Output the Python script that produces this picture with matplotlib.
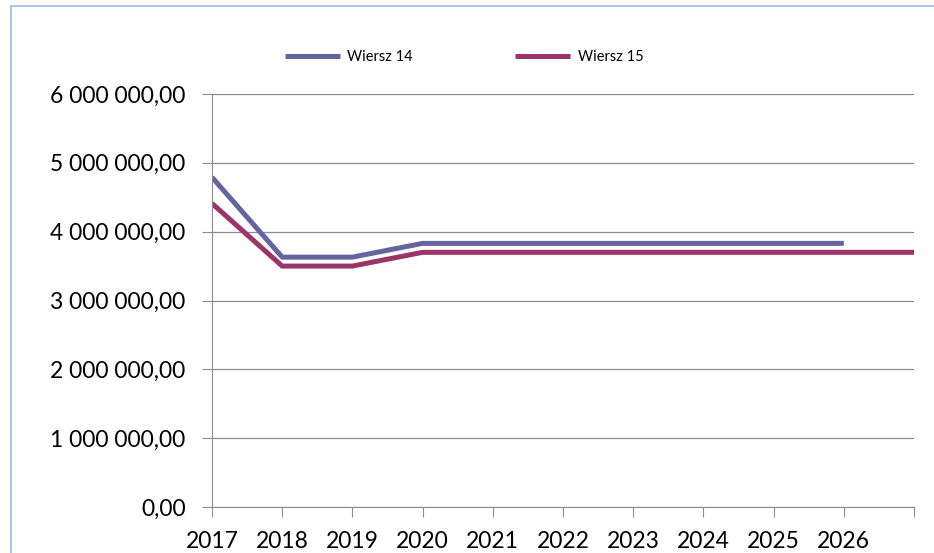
import matplotlib.pyplot as plt
from matplotlib.patches import Rectangle
from matplotlib.ticker import FuncFormatter

plt.rcParams['font.family'] = ['Lato', 'DejaVu Sans']

years = [2017, 2018, 2019, 2020, 2021, 2022, 2023, 2024, 2025, 2026, 2027]
year_labels = ['2017', '2018', '2019', '2020', '2021', '2022', '2023',
               '2024', '2025', '2026', '']
wiersz_14 = [4790000, 3630000, 3630000, 3830000, 3830000, 3830000, 3830000,
             3830000, 3830000, 3830000]
wiersz_15 = [4410000, 3500000, 3500000, 3700000, 3700000, 3700000, 3700000,
             3700000, 3700000, 3700000, 3700000]
y_ticks = [0, 1000000, 2000000, 3000000, 4000000, 5000000, 6000000]


def pl_format(v, pos):
    s = '{:,.2f}'.format(v)
    return s.replace(',', ' ').replace('.', ',')


fig = plt.figure(figsize=(9.34, 5.53), dpi=100)
fig.patches.append(Rectangle((11 / 934, -0.1), 1.2, 1 - 6 / 553 + 0.1,
                             transform=fig.transFigure, fill=False,
                             edgecolor='#9db9e0', linewidth=1.2))

ax = fig.add_axes([212 / 934, 1 - 507 / 553, 702 / 934, 413 / 553])
ax.plot(years[:len(wiersz_14)], wiersz_14, color='#64649e', lw=3.6,
        label='Wiersz 14', solid_capstyle='butt')
ax.plot(years[:len(wiersz_15)], wiersz_15, color='#9b3468', lw=3.6,
        label='Wiersz 15', solid_capstyle='butt')

ax.set_xlim(years[0], years[-1])
ax.set_ylim(0, 6000000)
ax.set_xticks(years)
ax.set_xticklabels(year_labels)
ax.set_yticks(y_ticks)
ax.yaxis.set_major_formatter(FuncFormatter(pl_format))
ax.grid(axis='y', color='#8c8c8c', lw=0.9)
ax.set_axisbelow(True)

for side in ['top', 'right']:
    ax.spines[side].set_visible(False)
for side in ['left', 'bottom']:
    ax.spines[side].set_color('#8c8c8c')
ax.tick_params(axis='both', colors='#8c8c8c', labelcolor='black',
               labelsize=16.5, length=7)
ax.tick_params(axis='x', pad=10)
ax.tick_params(axis='y', pad=12)

fig.legend(loc='center', bbox_to_anchor=(464 / 934, 1 - 57 / 553), ncol=2,
           frameon=False, fontsize=10.5, handlelength=3.8,
           columnspacing=7, handletextpad=0.5)

fig.savefig('out.png', dpi=100)
